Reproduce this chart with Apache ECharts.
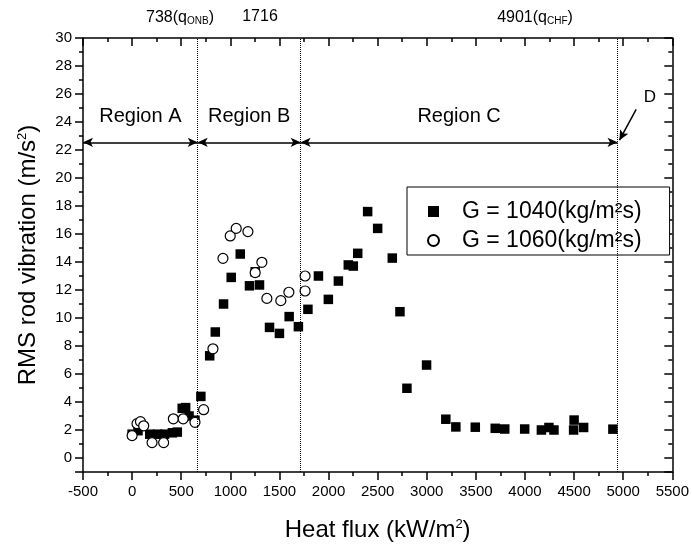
<!DOCTYPE html>
<html><head><meta charset="utf-8">
<script src="https://cdn.jsdelivr.net/npm/echarts@6/dist/echarts.min.js"></script>
<style>html,body{margin:0;padding:0;background:#fff}#c{width:692px;height:548px}</style>
</head><body><div id="c"></div>
<script>
const FONT = '"Liberation Sans", Arial, Helvetica, sans-serif';

const seriesNames = ['G1040', 'G1060'];
const legendLabels = ['G = 1040(kg/m\u00B2s)', 'G = 1060(kg/m\u00B2s)'];

// G = 1040 kg/m2s (filled squares): [heat flux, RMS vibration]
const g1040 = [
  [0,1.7],[60,1.95],[180,1.7],[260,1.7],[330,1.7],[410,1.8],[460,1.85],
  [510,3.55],[545,3.6],[580,3.0],[640,2.7],[700,4.4],
  [790,7.3],[847,9.0],[931,11.0],[1009,12.9],[1101,14.57],[1195,12.3],[1253,13.3],
  [1297,12.36],[1399,9.33],[1500,8.9],[1599,10.1],[1693,9.38],[1790,10.62],
  [1897,13.0],[1998,11.33],[2100,12.64],[2201,13.79],[2252,13.71],[2297,14.62],
  [2398,17.6],[2500,16.4],[2649,14.28],[2727,10.45],[2798,4.98],[2998,6.64],
  [3194,2.77],[3296,2.22],[3494,2.2],[3697,2.12],[3794,2.07],[3997,2.07],
  [4167,2.0],[4244,2.18],[4295,2.0],[4500,2.71],[4495,2.0],[4597,2.18],[4895,2.06]
];

// G = 1060 kg/m2s (open circles)
const g1060 = [
  [0,1.6],[50,2.45],[85,2.6],[118,2.3],[203,1.1],[321,1.1],[420,2.8],[520,2.8],
  [640,2.55],[728,3.45],[823,7.8],[925,14.26],[999,15.86],[1060,16.4],[1179,16.17],
  [1253,13.24],[1321,13.98],[1372,11.4],[1514,11.24],[1596,11.84],[1761,11.93],[1761,13.0]
];

// axis ranges (tick labels follow from these: x every 500, y every 2)
const xRange = [-500, 5500];
const yRange = [-1, 30];

// dotted boundary lines (as drawn) and their top labels
const boundaries = [668, 1716, 4942];
const boundaryLabels = ['738(q{sub|ONB})', '1716', '4901(q{sub|CHF})'];

// region arrows
const regionNames = ['Region A', 'Region B', 'Region C'];
const regionStarts = [-500, 668, 1716];
const regionEnds = [668, 1716, 4942];
const regionArrowY = 22.55;
const dArrowFrom = [5132, 24.9];
const dArrowTo = [4962, 22.7];

const chart = echarts.init(document.getElementById('c'));

const axisLineStyle = { color: '#000', width: 1.5 };
const tickLine = { color: '#000', width: 1.5 };
const supRich = { sup: { fontSize: 13, fontFamily: FONT, verticalAlign: 'top', color: '#000', lineHeight: 13 } };

function xAxisCfg(pos) {
  const bottom = pos === 'bottom';
  return {
    type: 'value', position: pos, min: xRange[0], max: xRange[1], interval: 500,
    axisLine: { show: true, onZero: false, lineStyle: axisLineStyle },
    axisTick: { show: true, inside: !bottom, length: 8, lineStyle: tickLine },
    minorTick: { show: true, splitNumber: 2, length: 4, lineStyle: tickLine },
    axisLabel: { show: bottom, fontSize: 15, fontFamily: FONT, color: '#000', margin: 12,
      formatter: v => String(v) },
    splitLine: { show: false }, minorSplitLine: { show: false },
    name: bottom ? 'Heat flux (kW/m{sup|2})' : '',
    nameLocation: 'middle', nameGap: 46,
    nameTextStyle: { fontSize: 24, fontFamily: FONT, color: '#000', rich: supRich }
  };
}
function yAxisCfg(pos) {
  const left = pos === 'left';
  return {
    type: 'value', position: pos, min: yRange[0], max: yRange[1], splitNumber: 15,
    axisLine: { show: true, onZero: false, lineStyle: axisLineStyle },
    axisTick: { show: true, inside: !left, length: 8, lineStyle: tickLine },
    minorTick: { show: true, splitNumber: 2, length: 4, lineStyle: tickLine },
    axisLabel: { show: left, fontSize: 15, fontFamily: FONT, color: '#000', margin: 11,
      showMinLabel: false, formatter: v => (v % 2 === 0 ? String(v) : '') },
    splitLine: { show: false }, minorSplitLine: { show: false },
    name: left ? 'RMS rod vibration (m/s{sup|2})' : '',
    nameLocation: 'middle', nameGap: 43,
    nameTextStyle: { fontSize: 24, fontFamily: FONT, color: '#000', rich: supRich }
  };
}

const regionLines = regionNames.map((nm, i) => [
  { coord: [regionStarts[i], regionArrowY], symbol: 'arrow',
    label: { show: true, formatter: nm, position: 'insideMiddleTop', distance: 16,
      fontSize: 20, fontFamily: FONT, color: '#000' } },
  { coord: [regionEnds[i], regionArrowY], symbol: 'arrow' }
]);
const dLine = [
  { coord: dArrowFrom, symbol: 'none', label: { show: false } },
  { coord: dArrowTo, symbol: 'arrow' }
];

const subRich = { sub: { fontSize: 10, fontFamily: FONT, verticalAlign: 'bottom', lineHeight: 14 } };

chart.setOption({
  animation: false,
  backgroundColor: '#fff',
  grid: { left: 83, right: 19, top: 38, bottom: 76, containLabel: false },
  xAxis: [xAxisCfg('bottom'), xAxisCfg('top')],
  yAxis: [yAxisCfg('left'), yAxisCfg('right')],
  legend: {
    left: 407, top: 187, orient: 'vertical', selectedMode: false,
    data: seriesNames,
    formatter: (n) => legendLabels[seriesNames.indexOf(n)],
    itemWidth: 11, itemHeight: 11, itemGap: 6,
    padding: [13, 28, 3, 20],
    borderColor: '#000', borderWidth: 1, backgroundColor: '#fff',
    textStyle: { fontSize: 23, fontFamily: FONT, color: '#000', lineHeight: 22, padding: [0, 0, 0, 18] }
  },
  graphic: [
    { type: 'text', x: 180, y: 18, style: { text: boundaryLabels[0], fontSize: 16, fontFamily: FONT, fill: '#000', align: 'center', verticalAlign: 'middle', rich: subRich } },
    { type: 'text', x: 260, y: 17, style: { text: boundaryLabels[1], fontSize: 16, fontFamily: FONT, fill: '#000', align: 'center', verticalAlign: 'middle' } },
    { type: 'text', x: 535, y: 18, style: { text: boundaryLabels[2], fontSize: 16, fontFamily: FONT, fill: '#000', align: 'center', verticalAlign: 'middle', rich: subRich } },
    { type: 'text', x: 650, y: 97, style: { text: 'D', fontSize: 17, fontFamily: FONT, fill: '#000', align: 'center', verticalAlign: 'middle' } }
  ],
  series: [
    {
      name: seriesNames[0], type: 'scatter', xAxisIndex: 0, yAxisIndex: 0,
      symbol: 'rect', symbolSize: 9.5, itemStyle: { color: '#000', opacity: 1 },
      data: g1040, z: 3,
      markLine: {
        silent: true, symbol: ['none', 'none'], animation: false,
        lineStyle: { type: 'dotted', color: '#000', width: 1 },
        label: { show: false },
        data: boundaries.map(b => ({ xAxis: b }))
      }
    },
    {
      name: seriesNames[1], type: 'scatter', xAxisIndex: 0, yAxisIndex: 0,
      symbol: 'circle', symbolSize: 10,
      itemStyle: { color: '#fff', borderColor: '#000', borderWidth: 1.2, opacity: 1 },
      data: g1060, z: 4,
      markLine: {
        silent: true, animation: false, symbolSize: [7, 10],
        lineStyle: { type: 'solid', color: '#000', width: 1.5 },
        label: { show: false },
        data: regionLines.concat([dLine])
      }
    }
  ]
});
</script>
</body></html>
